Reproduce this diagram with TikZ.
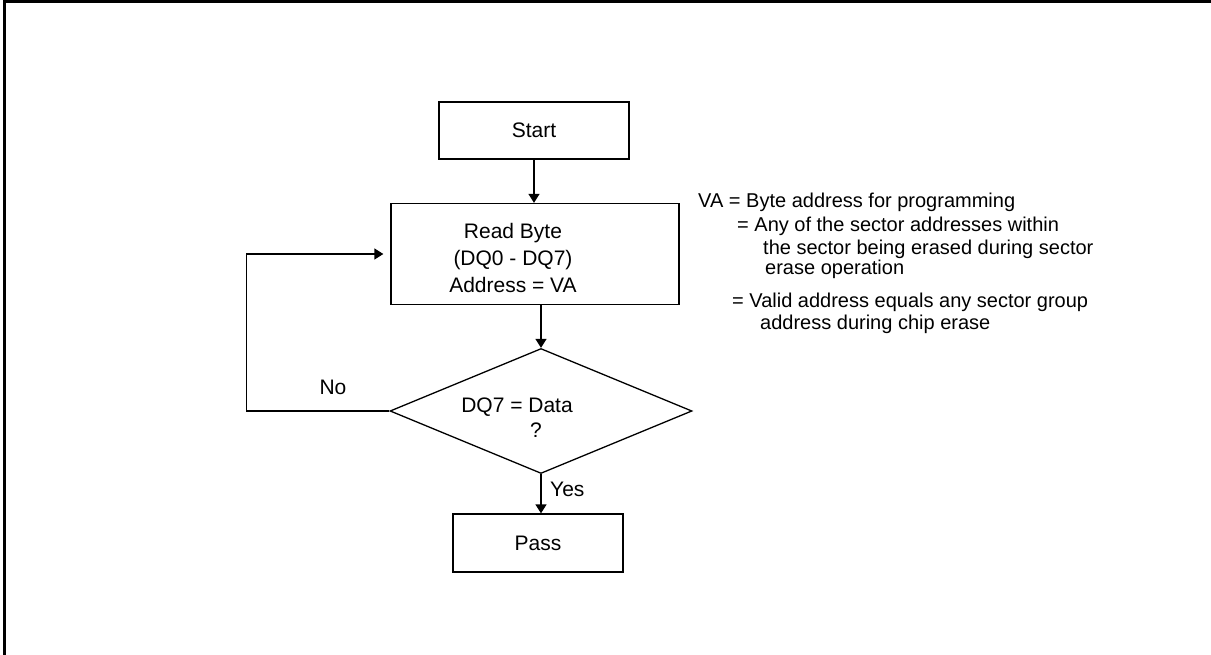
\documentclass[tikz,border=0pt]{standalone}
\usepackage{fontspec}
\setmainfont{Liberation Sans}
\usetikzlibrary{shapes.geometric}
\usetikzlibrary{arrows.meta}

\begin{document}
\begin{tikzpicture}[x=1pt, y=-1pt, >={Triangle[width=11pt,length=9pt]},
  box/.style={draw, rectangle, line width=1.3pt, inner sep=0pt},
  lbl/.style={font=\fontsize{21}{27}\selectfont, inner sep=0pt},
  note/.style={font=\fontsize{20}{24}\selectfont, inner sep=0pt, anchor=base west}]
  % \draw[gray, very thin, step=50] (0,0) grid (1211,655);
  \useasboundingbox (0,0) rectangle (1211,655);
  \draw[line width=3pt] (4,655) -- (4,2) -- (1211,2);

  \node[box, lbl, minimum width=190, minimum height=57] (start) at (534,130.5) {Start};
  \node[box, minimum width=288, minimum height=101] (read) at (535,254) {};
  \node[lbl, align=center] (readtxt) at (513,258) {Read Byte\\(DQ0 - DQ7)\\Address = VA};
  \node[draw, diamond, line width=1.3pt, inner sep=0pt, minimum width=302, minimum height=125] (check) at (541,411) {};
  \node[lbl] (checktxt) at (517,407) {DQ7 = Data};
  \node[lbl] (qmark) at (536,430) {?};
  \node[box, lbl, minimum width=170, minimum height=58] (pass) at (538,543) {Pass};

  \draw[->, line width=1.3pt] (start.south) -- (start.south |- read.north);
  \draw[->, line width=1.3pt] (check.north |- read.south) -- (check.north);
  \draw[->, line width=1.3pt] (check.south) -- (check.south |- pass.north);
  \draw[->, line width=1.3pt, shorten >=7pt] (check.west) -- ++(-143,0) |- (read.west);

  \node[lbl] (no) at (333,387) {No};
  \node[lbl, anchor=west] (yes) at (550,489) {Yes};

  \node[note] (va1) at (698,208) {VA = Byte address for programming};
  \node[note] (va2) at (737,232) {= Any of the sector addresses within};
  \node[note] (va3) at (763,255) {the sector being erased during sector};
  \node[note] (va4) at (765,275) {erase operation};
  \node[note] (va5) at (732,308) {= Valid address equals any sector group};
  \node[note] (va6) at (760,330) {address during chip erase};
\end{tikzpicture}
\end{document}
